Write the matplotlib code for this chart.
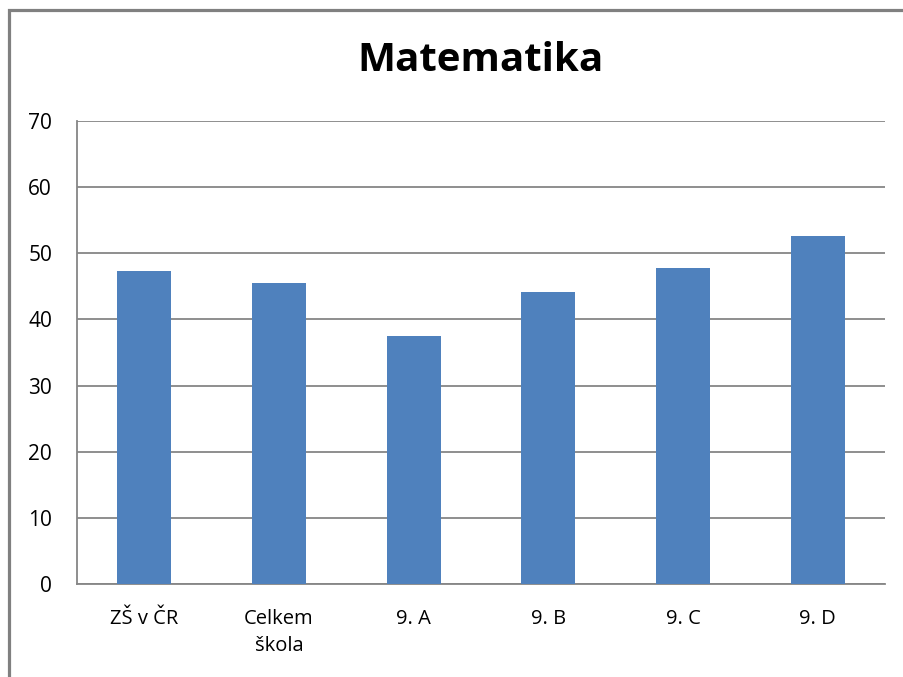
import matplotlib
matplotlib.use("Agg")
import matplotlib.pyplot as plt
from matplotlib.patches import Rectangle

# Data
kategorie = ["ZŠ v ČR", "Celkem\nškola", "9. A", "9. B", "9. C", "9. D"]
hodnoty = [47.3, 45.5, 37.5, 44.1, 47.8, 52.6]
y_ticks = [0, 10, 20, 30, 40, 50, 60, 70]

plt.rcParams['font.family'] = ['Open Sans', 'DejaVu Sans']

fig = plt.figure(figsize=(9.04, 6.77), dpi=100)
ax = fig.add_axes([0.0852, 0.1374, 0.8938, 0.6839])

# Grey frame around the chart (only the left and top edges visible)
fig.patches.append(Rectangle((9 / 904, -0.1), 1.2, 1 - 9.5 / 677 + 0.1,
                             transform=fig.transFigure, fill=False,
                             edgecolor="#808080", linewidth=2.3))

x = range(len(kategorie))
ax.bar(x, hodnoty, width=0.4, color="#4F81BD", zorder=3)

ax.set_xlim(-0.5, len(kategorie) - 0.5)
ax.set_ylim(0, 70)
ax.set_yticks(y_ticks)
ax.set_xticks(list(x))
ax.set_xticklabels(kategorie, fontsize=14.5, linespacing=1.5, va="top")
ax.tick_params(axis="y", labelsize=15, length=0, pad=18)
ax.tick_params(axis="x", length=0, pad=18)

ax.yaxis.grid(True, color="#868686", linewidth=1.3, zorder=0)
for s in ["top", "right"]:
    ax.spines[s].set_visible(False)
for s in ["left", "bottom"]:
    ax.spines[s].set_color("#868686")
    ax.spines[s].set_linewidth(1.3)

fig.text(0.531, 0.91, "Matematika", ha="center", va="center",
         fontsize=29, fontweight="bold")

fig.savefig("out.png", dpi=100)
